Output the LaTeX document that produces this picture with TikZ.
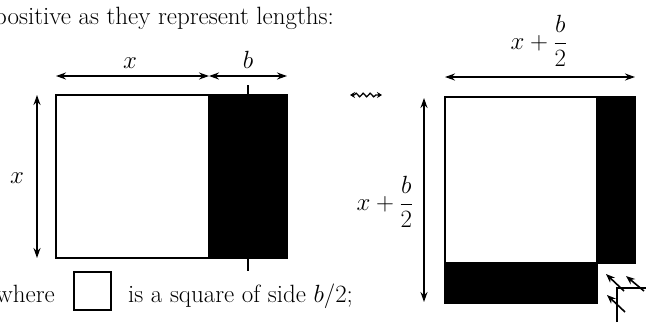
\documentclass[tikz,border=0pt]{standalone}
\usepackage{fontspec}
\usetikzlibrary{arrows.meta,decorations.pathmorphing}
\begin{document}
\begin{tikzpicture}[x=1pt,y=-1pt,
  every node/.style={font=\fontsize{25}{30}\selectfont, inner sep=0pt},
  dim/.style={{Stealth[length=10pt,width=7pt]}-{Stealth[length=10pt,width=7pt]}, line width=1.8pt},
  box/.style={line width=2.4pt},
  thin/.style={line width=1.8pt},
  small/.style={-{Stealth[length=9pt,width=7pt]}, line width=1.6pt}]
\useasboundingbox (0,0) rectangle (646,322);
\clip (0,0) rectangle (646,322);

% intro text
\node[anchor=base west] (intro) at (-6,24) {positive as they represent lengths:};

% ---- left figure
\coordinate (A1) at (56,95);
\coordinate (A2) at (208,95);
\coordinate (A6) at (287,258);
\fill (A2) rectangle (A6);
\draw[box] (A1) rectangle (A6);
\coordinate (T1) at (248,85);
\coordinate (T2) at (248,271);
\draw[thin] (T1) -- (T2);
\coordinate (D1) at (56,76);
\coordinate (D2) at (209,76);
\coordinate (D3) at (287,76);
\draw[dim] (D1) -- (D2);
\draw[dim] (D2) -- (D3);
\node[anchor=base] (lx) at (130,68) {$x$};
\node[anchor=base] (lb) at (248,68) {$b$};
\coordinate (L1) at (37,95);
\coordinate (L2) at (37,258);
\draw[dim] (L1) -- (L2);
\node (lx2) at (17,178) {$x$};

% where line
\node[anchor=base east] (where) at (55,302) {where};
\node[draw, line width=2.2pt, minimum width=37pt, minimum height=38pt] (sq) at (92.5,291) {};
\node[anchor=base west] (rest) at (128,302) {is a square of side $b/2$;};

% squiggle
\coordinate (S1) at (350,95);
\coordinate (S2) at (382,95);
\draw[line width=1.3pt, {Stealth[length=5pt,width=6pt]}-{Stealth[length=5pt,width=6pt]},
  decorate, decoration={snake, amplitude=1.8pt, segment length=7pt, pre length=4pt, post length=4pt}] (S1) -- (S2);

% ---- right figure
\coordinate (B1) at (445,97);
\coordinate (B2) at (596,262);
\fill (445,97) -| (635,263) -| (597,303) -| cycle;
\fill[white] (B1) rectangle (B2);
\draw[box] (445,97) -| (635,263) -| (597,303) -| cycle;
\coordinate (E1) at (445,77);
\coordinate (E2) at (635,77);
\draw[dim] (E1) -- (E2);
\node (rt) at (539,41) {$\displaystyle x+\frac{b}{2}$};
\coordinate (F1) at (424,98);
\coordinate (F2) at (424,302);
\draw[dim] (F1) -- (F2);
\node (rl) at (385,202) {$\displaystyle x+\frac{b}{2}$};

% corner marks
\coordinate (C0) at (617,288);
\coordinate (C1) at (617,322);
\coordinate (C2) at (646,288);
\draw[thin] (C1) -- (C0) -- (C2);
\coordinate (G1) at (624,291);
\coordinate (H1) at (606,274);
\coordinate (G2) at (644,291);
\coordinate (H2) at (626,276);
\coordinate (G3) at (625,312);
\coordinate (H3) at (607,295);
\draw[small] (G1) -- (H1);
\draw[small] (G2) -- (H2);
\draw[small] (G3) -- (H3);
\end{tikzpicture}
\end{document}
